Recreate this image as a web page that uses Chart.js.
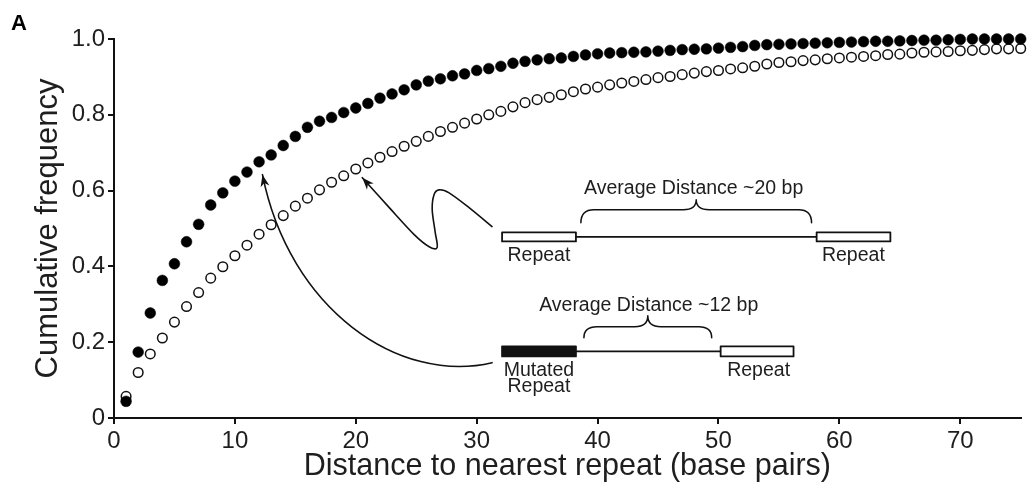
<!DOCTYPE html>
<html>
<head>
<meta charset="utf-8">
<script src="https://cdn.jsdelivr.net/npm/chart.js@4.4.1/dist/chart.umd.min.js"></script>
<style>
  html, body { margin: 0; padding: 0; background: #fff; }
  #wrap { width: 1027px; height: 488px; position: relative; }
</style>
</head>
<body>
<div id="wrap"><canvas id="c" width="1027" height="488"></canvas></div>
<script>
// ---- Data ----
const distances = [1,2,3,4,5,6,7,8,9,10,11,12,13,14,15,16,17,18,19,20,21,22,23,24,25,26,27,28,29,30,31,32,33,34,35,36,37,38,39,40,41,42,43,44,45,46,47,48,49,50,51,52,53,54,55,56,57,58,59,60,61,62,63,64,65,66,67,68,69,70,71,72,73,74,75];

const mutatedRepeat = [0.044,0.174,0.277,0.363,0.407,0.465,0.511,0.562,0.594,0.625,
  0.649,0.676,0.694,0.719,0.743,0.767,0.783,0.793,0.806,0.818,
  0.830,0.844,0.855,0.866,0.879,0.889,0.895,0.903,0.908,0.917,
  0.922,0.928,0.936,0.941,0.945,0.948,0.950,0.954,0.958,0.961,
  0.963,0.964,0.965,0.966,0.968,0.970,0.972,0.973,0.974,0.976,
  0.978,0.980,0.983,0.985,0.986,0.987,0.988,0.989,0.990,0.991,
  0.992,0.993,0.994,0.994,0.995,0.996,0.997,0.997,0.998,0.999,
  1.000,1.000,1.000,1.000,1.000];

const intactRepeat = [0.057,0.120,0.169,0.211,0.253,0.294,0.331,0.369,0.399,0.428,
  0.456,0.485,0.510,0.534,0.559,0.580,0.602,0.622,0.639,0.657,
  0.673,0.688,0.703,0.717,0.730,0.743,0.756,0.767,0.778,0.789,
  0.800,0.809,0.821,0.832,0.840,0.846,0.853,0.861,0.868,0.873,
  0.879,0.884,0.888,0.893,0.898,0.901,0.906,0.910,0.914,0.917,
  0.921,0.924,0.928,0.934,0.938,0.940,0.943,0.945,0.948,0.950,
  0.952,0.954,0.956,0.959,0.960,0.963,0.965,0.966,0.967,0.969,
  0.970,0.972,0.974,0.974,0.975];

const xTicks = [0,10,20,30,40,50,60,70];
const yTicks = [0,0.2,0.4,0.6,0.8,1.0];
const xTitle = 'Distance to nearest repeat (base pairs)';
const yTitle = 'Cumulative frequency';
const panelLabel = 'A';

// Diagram annotations, in data coordinates
const topDiagram = {
  boxes: [[32.1,38.21,0.490,0.466,false],[58.12,64.22,0.490,0.466,false]],
  line: [38.21,58.12,0.478],
  brace: [38.62,57.70,0.515,0.5496,0.576],
  text: ['Average Distance ~20 bp',47.95,0.592],
  labels: [['Repeat',35.15,0.414],['Repeat',61.16,0.414]]
};
const bottomDiagram = {
  boxes: [[32.1,38.21,0.189,0.1625,true],[50.18,56.21,0.189,0.1625,false]],
  line: [38.21,50.18,0.176],
  brace: [38.87,49.44,0.212,0.241,0.270],
  text: ['Average Distance ~12 bp',44.23,0.283],
  labels: [['Mutated',35.15,0.110],['Repeat',35.15,0.0675],['Repeat',53.32,0.110]]
};
// cubic bezier: start, control1, control2, tip
const arrowToFilled = [[31.27,0.146],[23.59,0.088],[14.51,0.286],[12.28,0.642]];
// smooth path through points, ending at tip
const arrowToOpen = [[31.27,0.505],[29.37,0.555],[27.72,0.594],[26.89,0.602],[26.48,0.590],[26.32,0.550],[26.56,0.492],[26.73,0.450],[26.07,0.452],[24.83,0.484],[22.77,0.555],[20.54,0.634]];

const FONT = '"Liberation Sans", Arial, Helvetica, sans-serif';
const INK = '#111';
const TXT = '#1e1e1e';

function arrowHead(ctx, a, b) {
  const ang = Math.atan2(b[1] - a[1], b[0] - a[0]);
  const L = 12, W = 4.5;
  ctx.beginPath();
  ctx.moveTo(b[0], b[1]);
  ctx.lineTo(b[0] - L * Math.cos(ang) + W * Math.sin(ang), b[1] - L * Math.sin(ang) - W * Math.cos(ang));
  ctx.lineTo(b[0] - L * 0.7 * Math.cos(ang), b[1] - L * 0.7 * Math.sin(ang));
  ctx.lineTo(b[0] - L * Math.cos(ang) - W * Math.sin(ang), b[1] - L * Math.sin(ang) + W * Math.cos(ang));
  ctx.closePath();
  ctx.fill();
}

function drawSpline(ctx, pts) {
  ctx.beginPath();
  ctx.moveTo(pts[0][0], pts[0][1]);
  for (let i = 0; i < pts.length - 1; i++) {
    const p0 = pts[Math.max(0, i - 1)], p1 = pts[i], p2 = pts[i + 1], p3 = pts[Math.min(pts.length - 1, i + 2)];
    const c1x = p1[0] + (p2[0] - p0[0]) / 6, c1y = p1[1] + (p2[1] - p0[1]) / 6;
    const c2x = p2[0] - (p3[0] - p1[0]) / 6, c2y = p2[1] - (p3[1] - p1[1]) / 6;
    ctx.bezierCurveTo(c1x, c1y, c2x, c2y, p2[0], p2[1]);
  }
  ctx.stroke();
  arrowHead(ctx, pts[pts.length - 2], pts[pts.length - 1]);
}

function drawBezierArrow(ctx, p) {
  ctx.beginPath();
  ctx.moveTo(p[0][0], p[0][1]);
  ctx.bezierCurveTo(p[1][0], p[1][1], p[2][0], p[2][1], p[3][0], p[3][1]);
  ctx.stroke();
  // direction near the tip
  const t = 0.97, u = 1 - t;
  const a = [
    u*u*u*p[0][0] + 3*u*u*t*p[1][0] + 3*u*t*t*p[2][0] + t*t*t*p[3][0],
    u*u*u*p[0][1] + 3*u*u*t*p[1][1] + 3*u*t*t*p[2][1] + t*t*t*p[3][1]
  ];
  arrowHead(ctx, a, p[3]);
}

function drawBrace(ctx, x1, x2, yEnd, yTop, yPeak) {
  const mid = (x1 + x2) / 2, r = 13;
  ctx.beginPath();
  ctx.moveTo(x1, yEnd);
  ctx.quadraticCurveTo(x1, yTop, x1 + r, yTop);
  ctx.lineTo(mid - r, yTop);
  ctx.quadraticCurveTo(mid, yTop, mid, yPeak);
  ctx.quadraticCurveTo(mid, yTop, mid + r, yTop);
  ctx.lineTo(x2 - r, yTop);
  ctx.quadraticCurveTo(x2, yTop, x2, yEnd);
  ctx.stroke();
}

const annotationPlugin = {
  id: 'annotations',
  afterDraw(chart) {
    const ctx = chart.ctx, xs = chart.scales.x, ys = chart.scales.y;
    const X = v => xs.getPixelForValue(v), Y = v => ys.getPixelForValue(v);
    ctx.save();
    ctx.strokeStyle = INK; ctx.fillStyle = INK; ctx.lineWidth = 1.6;
    ctx.lineCap = 'round'; ctx.lineJoin = 'round';
    [topDiagram, bottomDiagram].forEach(d => {
      ctx.lineWidth = 1.8;
      ctx.beginPath();
      ctx.moveTo(X(d.line[0]), Y(d.line[2]));
      ctx.lineTo(X(d.line[1]), Y(d.line[2]));
      ctx.stroke();
      d.boxes.forEach(b => {
        const x = X(b[0]), w = X(b[1]) - x, y = Y(b[2]), h = Y(b[3]) - y;
        ctx.fillStyle = b[4] ? INK : '#fff';
        ctx.fillRect(x, y, w, h);
        ctx.lineWidth = 1.8; ctx.strokeStyle = INK;
        ctx.strokeRect(x, y, w, h);
      });
      ctx.lineWidth = 1.5;
      drawBrace(ctx, X(d.brace[0]), X(d.brace[1]), Y(d.brace[2]), Y(d.brace[3]), Y(d.brace[4]));
      ctx.fillStyle = TXT;
      ctx.font = '19.5px ' + FONT;
      ctx.textAlign = 'center'; ctx.textBaseline = 'alphabetic';
      ctx.fillText(d.text[0], X(d.text[1]), Y(d.text[2]));
      d.labels.forEach(l => ctx.fillText(l[0], X(l[1]), Y(l[2])));
    });
    ctx.fillStyle = INK; ctx.strokeStyle = INK; ctx.lineWidth = 1.6;
    drawBezierArrow(ctx, arrowToFilled.map(p => [X(p[0]), Y(p[1])]));
    drawSpline(ctx, arrowToOpen.map(p => [X(p[0]), Y(p[1])]));
    // panel label
    ctx.fillStyle = '#000';
    ctx.font = 'bold 22px ' + FONT;
    ctx.textAlign = 'left'; ctx.textBaseline = 'alphabetic';
    ctx.fillText(panelLabel, 11, 30);
    ctx.restore();
  }
};

new Chart(document.getElementById('c'), {
  type: 'scatter',
  data: {
    datasets: [
      {
        label: 'Mutated repeat',
        data: distances.map((d, i) => ({ x: d, y: mutatedRepeat[i] })),
        pointRadius: 5.4,
        pointBackgroundColor: '#000',
        pointBorderColor: '#000',
        pointBorderWidth: 0.5,
        clip: false
      },
      {
        label: 'Repeat',
        data: distances.map((d, i) => ({ x: d, y: intactRepeat[i] })),
        pointRadius: 4.8,
        pointBackgroundColor: '#fff',
        pointBorderColor: '#111',
        pointBorderWidth: 1.5,
        clip: false
      }
    ]
  },
  options: {
    responsive: false,
    animation: false,
    events: [],
    layout: { padding: { top: 39, right: 4, bottom: 0, left: 0 } },
    plugins: { legend: { display: false }, tooltip: { enabled: false } },
    scales: {
      x: {
        type: 'linear', min: 0, max: 75,
        afterFit: s => { s.height = 70; },
        afterBuildTicks: s => { s.ticks = xTicks.map(v => ({ value: v })); },
        ticks: { color: TXT, font: { family: FONT, size: 24 }, padding: 3, maxRotation: 0, autoSkip: false,
                 callback: v => String(v) },
        grid: { drawOnChartArea: false, drawTicks: true, tickLength: 6, color: INK, lineWidth: 2 },
        border: { color: INK, width: 2 },
        title: { display: true, text: xTitle, color: TXT, font: { family: FONT, size: 30.5 }, padding: { top: 0, bottom: 3 } }
      },
      y: {
        type: 'linear', min: 0, max: 1,
        afterFit: s => { s.width = 114; },
        afterBuildTicks: s => { s.ticks = yTicks.map(v => ({ value: v })); },
        ticks: { color: TXT, font: { family: FONT, size: 24 }, padding: 3,
                 callback: v => (v === 0 ? '0' : Number(v).toFixed(1)) },
        grid: { drawOnChartArea: false, drawTicks: true, tickLength: 6, color: INK, lineWidth: 2 },
        border: { color: INK, width: 2 },
        title: { display: true, text: yTitle, color: TXT, font: { family: FONT, size: 31 }, padding: { top: 30, bottom: 0 } }
      }
    }
  },
  plugins: [annotationPlugin]
});
</script>
</body>
</html>
